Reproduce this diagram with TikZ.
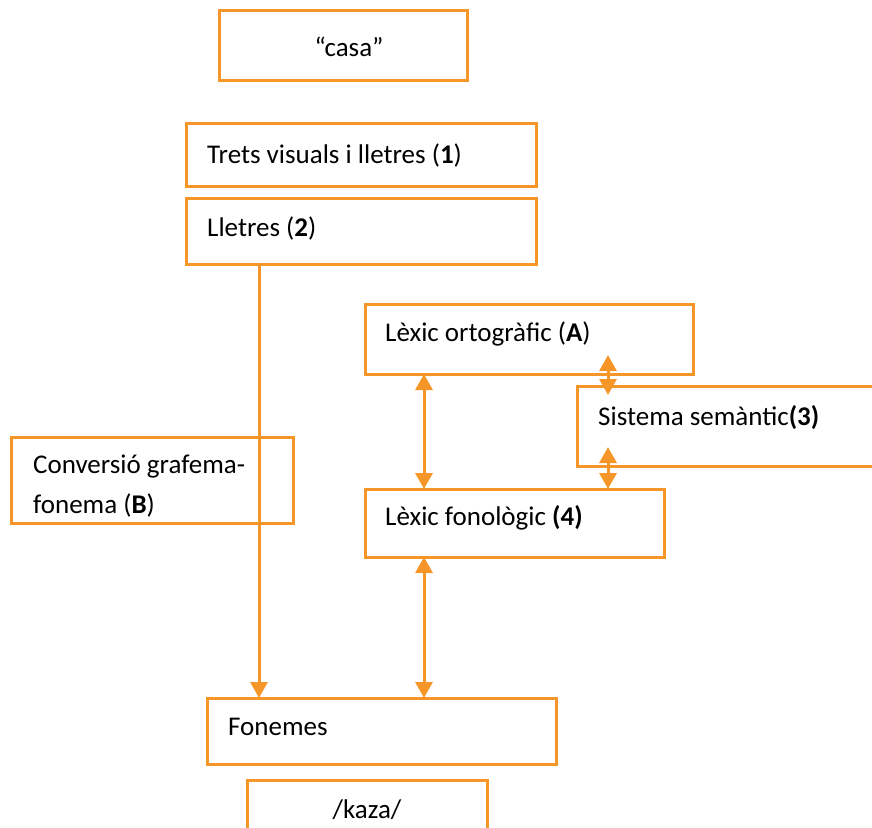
\documentclass[tikz,border=0pt]{standalone}
\usepackage{fontspec}
\setmainfont{Carlito}
\usetikzlibrary{arrows.meta}
\definecolor{boxorange}{RGB}{247,150,40}
\tikzset{
  box/.style={draw=boxorange, line width=3pt, fill=none},
  lbl/.style={anchor=west, inner sep=0pt, font=\fontsize{27}{32}\selectfont},
  clbl/.style={anchor=center, inner sep=0pt, font=\fontsize{27}{32}\selectfont},
  flow/.style={draw=boxorange, line width=3pt, -{Triangle[width=17pt,length=16pt]}},
  both/.style={draw=boxorange, line width=3pt, {Triangle[width=17pt,length=16pt]}-{Triangle[width=17pt,length=16pt]}}
}
\begin{document}
\begin{tikzpicture}[x=1pt,y=-1pt]
\useasboundingbox (0,0) rectangle (872,827);
% boxes
\draw[box] (219,10) rectangle (467,80);
\node[clbl] (casa) at (349,47) {“casa”};
\draw[box] (186,123) rectangle (536,186);
\node[lbl] (trets) at (207,155) {Trets visuals i lletres (\textbf{1})};
\draw[box] (186,198) rectangle (536,264);
\coordinate (lletresB) at (259,264);
\node[lbl] (lletres) at (207,228) {Lletres (\textbf{2})};
\draw[box] (365,304) rectangle (693,374);
\node[lbl] (orto) at (385,334) {Lèxic ortogràfic (\textbf{A})};
\draw[box] (577,386) rectangle (880,466);
\node[lbl] (sem) at (598,418) {Sistema semàntic\textbf{(3)}};
\draw[box] (11,437) rectangle (293,523);
\node[lbl] (conv1) at (33,467) {Conversió grafema-};
\node[lbl] (conv2) at (33,505) {fonema (\textbf{B})};
\draw[box] (365,489) rectangle (664,557);
\node[lbl] (fono) at (385,518) {Lèxic fonològic \textbf{(4)}};
\draw[box] (207,698) rectangle (556,764);
\node[lbl] (fonemes) at (228,727) {Fonemes};
\draw[box] (247,780) rectangle (487,840);
\node[clbl] (kaza) at (367,810) {/kaza/};
% connectors
\coordinate (fonemesT1) at (259,698);
\coordinate (ortoB) at (424,374);
\coordinate (fonoT) at (424,489);
\coordinate (fonoB) at (424,557);
\coordinate (fonemesT2) at (424,698);
\coordinate (semA1) at (608,355);
\coordinate (semA2) at (608,395);
\coordinate (semB1) at (608,447);
\coordinate (semB2) at (608,489);
\draw[flow] (lletresB) -- (fonemesT1);
\draw[both] (ortoB) -- (fonoT);
\draw[both] (fonoB) -- (fonemesT2);
\draw[both] (semA1) -- (semA2);
\draw[both] (semB1) -- (semB2);
\end{tikzpicture}
\end{document}
